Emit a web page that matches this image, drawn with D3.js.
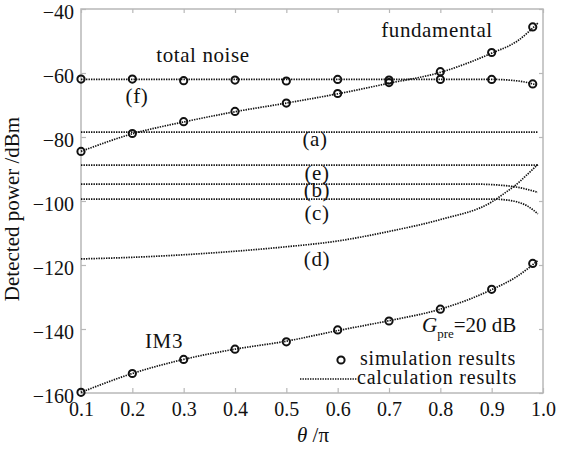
<!DOCTYPE html>
<html lang="en">
<head>
<meta charset="UTF-8">
<title>Detected power vs theta</title>
<script src="https://d3js.org/d3.v7.min.js"></script>
<style>
  body { margin: 0; background: #fff; }
  svg { display: block; }
  text { font-family: "Liberation Serif", serif; fill: #111; }
</style>
</head>
<body>
<div id="chart"></div>
<script>
// simulation points (theta / pi)
const simTheta = [0.1, 0.2, 0.3, 0.4, 0.5, 0.6, 0.7, 0.8, 0.9, 0.98];
const simFund  = [-84.5, -78.9, -75.2, -72, -69.4, -66.4, -63, -59.6, -53.6, -45.6];
const simNoise = [-61.9, -61.9, -62.4, -62.2, -62.5, -62, -62.2, -62, -62, -63.4];
const simIM3   = [-159.8, -153.9, -149.5, -146.3, -144, -140.3, -137.5, -133.8, -127.6, -119.5];

// calculation curves
const calcTheta = [0.1, 0.2, 0.3, 0.4, 0.5, 0.6, 0.7, 0.8, 0.9, 0.95, 0.99];
const calcFund  = [-84.5, -79, -75.3, -72.1, -69.4, -66.5, -63.2, -59.8, -53.8, -50, -44.4];
const calcIM3   = [-159.8, -153.9, -149.5, -146.3, -143.8, -140.5, -137.4, -133.8, -127.7, -123.5, -118.6];

const noiseTheta = [0.1, 0.5, 0.9, 0.94, 0.97, 0.99];
const calcNoise  = [-62, -62, -62, -62.3, -63, -63.9];

const flatTheta = [0.1, 0.99];
const calcA = [-78.5, -78.5];
const calcE = [-88.8, -88.8];

const bTheta = [0.1, 0.86, 0.92, 0.95, 0.97, 0.99];
const calcB  = [-94.7, -94.7, -95.1, -95.7, -96.4, -97.3];

const cTheta = [0.1, 0.9, 0.93, 0.95, 0.97, 0.99];
const calcC  = [-99.4, -99.4, -99.7, -100.3, -101.6, -104];

const dTheta = [0.1, 0.2, 0.3, 0.4, 0.5, 0.6, 0.7, 0.8, 0.9, 0.93, 0.95, 0.97, 0.99];
const calcD  = [-118.1, -117.6, -116.8, -115.7, -114.3, -112.5, -109.5, -105.8, -100.3, -97, -94.6, -91.6, -88.6];

const xTicks = [0.1, 0.2, 0.3, 0.4, 0.5, 0.6, 0.7, 0.8, 0.9, 1.0];
const yTicks = [-40, -60, -80, -100, -120, -140, -160];

const width = 562, height = 451;
const margin = {top: 9, right: 19, bottom: 58, left: 81};
const serif = '"Liberation Serif", serif';

const svg = d3.select('#chart').append('svg')
    .attr('width', width)
    .attr('height', height);

const x = d3.scaleLinear().domain([0.1, 1.0]).range([margin.left, width - margin.right]);
const y = d3.scaleLinear().domain([-160, -40]).range([height - margin.bottom, margin.top]);

const gray = '#b8b8b8';

// frame
svg.append('rect')
    .attr('x', x(0.1)).attr('y', y(-40))
    .attr('width', x(1.0) - x(0.1)).attr('height', y(-160) - y(-40))
    .attr('fill', 'none').attr('stroke', gray).attr('stroke-width', 1.5);

// axes
const xAxis = svg.append('g')
    .attr('transform', `translate(0,${y(-160)})`)
    .call(d3.axisBottom(x).tickValues(xTicks).tickFormat(d3.format('.1f')).tickSize(-5).tickPadding(8));
const xTop = svg.append('g')
    .attr('transform', `translate(0,${y(-40)})`)
    .call(d3.axisTop(x).tickValues(xTicks).tickFormat('').tickSize(-4));
const yAxis = svg.append('g')
    .attr('transform', `translate(${x(0.1)},0)`)
    .call(d3.axisLeft(y).tickValues(yTicks).tickSize(-5).tickPadding(7));
const yRight = svg.append('g')
    .attr('transform', `translate(${x(1.0)},0)`)
    .call(d3.axisRight(y).tickValues(yTicks).tickFormat('').tickSize(-4));

[xAxis, xTop, yAxis, yRight].forEach(g => {
    g.select('.domain').remove();
    g.selectAll('.tick line').attr('stroke', gray).attr('stroke-width', 1.2);
    g.selectAll('text').attr('font-size', 20).attr('font-family', serif).attr('fill', '#111');
});
xAxis.selectAll('text').attr('dy', '0.75em');
yAxis.selectAll('text').attr('dy', '0.45em');

// calculation curves
const line = d3.line()
    .x(d => x(d[0]))
    .y(d => y(d[1]))
    .curve(d3.curveMonotoneX);

const curves = [
    [calcTheta, calcFund],
    [calcTheta, calcIM3],
    [noiseTheta, calcNoise],
    [flatTheta, calcA],
    [flatTheta, calcE],
    [bTheta, calcB],
    [cTheta, calcC],
    [dTheta, calcD]
];

curves.forEach(([t, v]) => {
    svg.append('path')
        .datum(t.map((d, i) => [d, v[i]]))
        .attr('d', line)
        .attr('fill', 'none')
        .attr('stroke', '#111')
        .attr('stroke-width', 1.7)
        .attr('stroke-dasharray', '1.4,1.1');
});

// simulation markers
[simFund, simNoise, simIM3].forEach(vals => {
    svg.append('g').selectAll('circle')
        .data(simTheta.map((d, i) => [d, vals[i]]))
        .enter().append('circle')
        .attr('cx', d => x(d[0]))
        .attr('cy', d => y(d[1]))
        .attr('r', 3.6)
        .attr('fill', 'none')
        .attr('stroke', '#111')
        .attr('stroke-width', 2);
});

// annotations
const notes = [
    {t: 'total noise', x: 203, y: 62},
    {t: '(f)', x: 137, y: 103},
    {t: 'fundamental', x: 437, y: 37},
    {t: '(a)', x: 315, y: 146},
    {t: '(e)', x: 317, y: 180},
    {t: '(b)', x: 317, y: 197},
    {t: '(c)', x: 317, y: 220},
    {t: '(d)', x: 317, y: 266},
    {t: 'IM3', x: 164, y: 348}
];
svg.selectAll('.note')
    .data(notes)
    .enter().append('text')
    .attr('class', 'note')
    .attr('x', d => d.x)
    .attr('y', d => d.y)
    .attr('text-anchor', 'middle')
    .attr('font-size', 21)
    .attr('letter-spacing', 0.6)
    .text(d => d.t);

// G_pre label
const g = svg.append('text').attr('x', 422).attr('y', 332).attr('font-size', 21);
g.append('tspan').attr('font-style', 'italic').text('G');
g.append('tspan').attr('font-size', 13).attr('dy', 6).text('pre');
g.append('tspan').attr('dy', -6).text('=20 dB');

// legend
svg.append('circle')
    .attr('cx', 341).attr('cy', 360).attr('r', 3.6)
    .attr('fill', 'none').attr('stroke', '#111').attr('stroke-width', 2);
svg.append('text').attr('x', 360).attr('y', 365).attr('font-size', 20)
    .attr('letter-spacing', 0.8).text('simulation results');
svg.append('line')
    .attr('x1', 300).attr('x2', 357).attr('y1', 379).attr('y2', 379)
    .attr('stroke', '#111').attr('stroke-width', 1.7).attr('stroke-dasharray', '1.4,1.1');
svg.append('text').attr('x', 357).attr('y', 384).attr('font-size', 20)
    .attr('letter-spacing', 0.8).text('calculation results');

// axis titles
svg.append('text')
    .attr('transform', `translate(19,${209}) rotate(-90)`)
    .attr('text-anchor', 'middle')
    .attr('font-size', 21)
    .text('Detected power /dBm');

const xt = svg.append('text').attr('x', 313).attr('y', 442).attr('text-anchor', 'middle').attr('font-size', 21);
xt.append('tspan').attr('font-style', 'italic').text('θ');
xt.append('tspan').text(' /π');
</script>
</body>
</html>
